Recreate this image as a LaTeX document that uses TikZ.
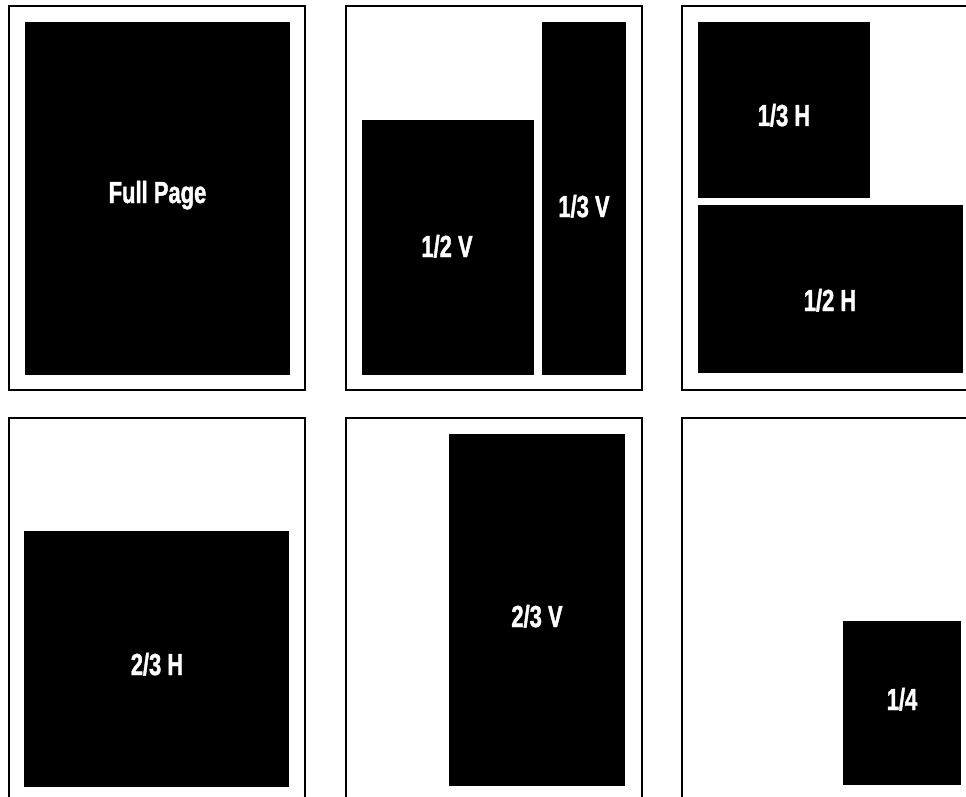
\documentclass[tikz,border=0pt]{standalone}
\usepackage{fontspec}
\newfontfamily\adfont{Liberation Sans Bold}[FakeStretch=0.72,FakeBold=1.3]
\tikzset{
	sheet/.style={draw, line width=2pt},
	adlabel/.style={anchor=base, text=white, inner sep=0pt, font=\adfont\fontsize{30.5}{30}\selectfont}
}
\begin{document}
\begin{tikzpicture}[x=1pt,y=-1pt]
	\useasboundingbox (0,0) rectangle (966,797);
	\clip (0,0) rectangle (966,797);
	% page outlines
	\foreach \px/\py in {8.5/6, 345.5/6, 681.5/6, 8.5/418, 345.5/418, 681.5/418}
	{
		\draw[sheet] (\px,\py) rectangle (\px+296.5,\py+384);
	}
	% ad sizes
	\foreach \name/\xa/\ya/\xb/\yb/\tx/\ty/\txt in
	{
		full/25/22/290/375/157.5/203/{Full Page},
		halfv/362/120/534/375/447/257/{1/2 V},
		thirdv/542/22/626/375/584/217/{1/3 V},
		thirdh/698/22/870/198/784/126/{1/3 H},
		halfh/698/205/963/373/830/311/{1/2 H},
		twothirdh/24/531/289/787/157/675/{2/3 H},
		twothirdv/449/434/625/786/537/627/{2/3 V},
		quarter/843/621/961/785/902/710/{1/4}
	}
	{
		\fill (\xa,\ya) rectangle (\xb,\yb);
		\node[adlabel] (\name) at (\tx,\ty) {\txt};
	}
\end{tikzpicture}
\end{document}
